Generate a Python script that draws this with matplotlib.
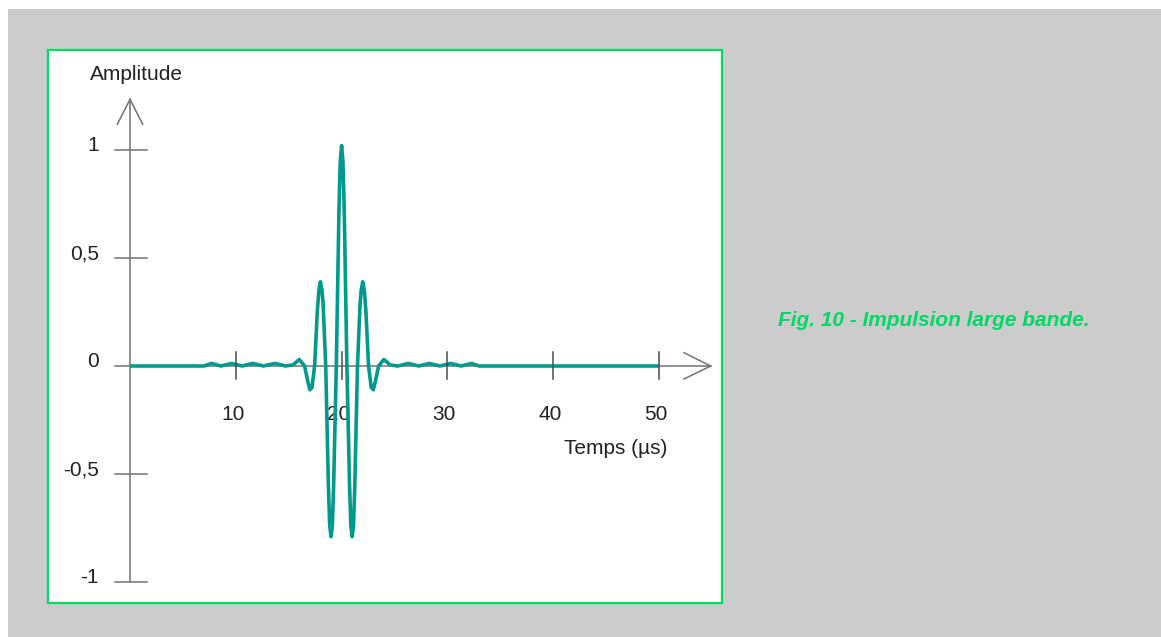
import matplotlib
matplotlib.use('Agg')
import matplotlib.pyplot as plt
from matplotlib.patches import Rectangle

# ---- data ----
time_us = [0, 7.0, 7.7, 8.6, 9.6, 10.6, 11.6, 12.6, 13.7, 14.7, 15.4, 16.0, 16.5,
           16.8, 17.0, 17.2, 17.45, 17.7, 17.85, 18.0, 18.15, 18.25, 18.5, 18.75,
           18.875, 19.0, 19.125, 19.25, 19.5, 19.75, 19.875, 20.0, 20.125, 20.25,
           20.5, 20.75, 20.875, 21.0, 21.125, 21.25, 21.5, 21.75, 21.85, 22.0,
           22.15, 22.3, 22.55, 22.8, 23.0, 23.2, 23.5, 24.0, 24.6, 25.3, 26.3,
           27.3, 28.3, 29.3, 30.3, 31.3, 32.3, 33.0, 50]
amplitude = [0, 0, 0.012, 0, 0.012, 0, 0.012, 0, 0.012, 0, 0.005, 0.03, 0.0,
             -0.07, -0.11, -0.10, 0.0, 0.25, 0.35, 0.39, 0.35, 0.29, 0.0, -0.55,
             -0.74, -0.79, -0.74, -0.55, 0.0, 0.72, 0.95, 1.02, 0.95, 0.72,
             0.0, -0.55, -0.74, -0.79, -0.74, -0.55, 0.0, 0.29, 0.35, 0.39,
             0.35, 0.25, 0.0, -0.10, -0.11, -0.07, 0.0, 0.03, 0.005, 0, 0.012,
             0, 0.012, 0, 0.012, 0, 0.012, 0, 0]

x_ticks = [10, 20, 30, 40, 50]
x_tick_labels = ['10', '20', '30', '40', '50']
y_ticks = [1, 0.5, 0, -0.5, -1]
y_tick_labels = ['1', '0,5', '0', '-0,5', '-1']
x_label = 'Temps (µs)'
y_label = 'Amplitude'
caption = 'Fig. 10 - Impulsion large bande.'

# ---- layout ----
W, H = 1161, 637
X0, XS = 130.0, 10.58     # pixel of x=0, pixels per µs
Y0, YS = 366.0, 216.0     # pixel of y=0, pixels per unit amplitude

plt.rcParams['font.family'] = ['Liberation Sans', 'DejaVu Sans']
fig = plt.figure(figsize=(W / 100, H / 100), dpi=100)
fig.patch.set_facecolor('white')


def fx(px):
    return px / W


def fy(py):
    return 1 - py / H


fig.patches.append(Rectangle((fx(8), 0), 1 - fx(8), fy(9), transform=fig.transFigure,
                             facecolor='#cccccc', edgecolor='none', zorder=0))
fig.patches.append(Rectangle((fx(48), fy(603)), fx(722) - fx(48), fy(50) - fy(603),
                             transform=fig.transFigure, facecolor='white',
                             edgecolor='#00dd66', linewidth=1.6, zorder=1))

ax = fig.add_axes([0, 0, 1, 1])
ax.set_zorder(5)
ax.patch.set_alpha(0)
ax.axis('off')
ax.set_xlim(-X0 / XS, (W - X0) / XS)
ax.set_ylim((Y0 - H) / YS, Y0 / YS)


def dx(px):
    return (px - X0) / XS


def dy(py):
    return (Y0 - py) / YS


axis_col = '#737373'
tick_col = '#4a4a4a'
lw_axis = 1.1

# x axis with open arrow
ax.plot([0, dx(710.7)], [0, 0], color=axis_col, lw=lw_axis, zorder=2)
ax.plot([dx(684), dx(710.7), dx(684)], [dy(352.7), 0, dy(379)], color=axis_col,
        lw=lw_axis, zorder=2)
# y axis with open arrow
ax.plot([0, 0], [min(y_ticks), dy(99.3)], color=axis_col, lw=lw_axis, zorder=2)
ax.plot([dx(117.3), 0, dx(142.7)], [dy(124.3), dy(99.3), dy(124.3)], color=axis_col,
        lw=lw_axis, zorder=2)

for v, lbl in zip(y_ticks, y_tick_labels):
    ax.plot([dx(115), dx(147.3)], [v, v], color=axis_col, lw=lw_axis, zorder=2)
    ax.text(dx(99), v - 1.0 / YS, lbl, ha='right', va='baseline', fontsize=15,
            color='#222222')

for v, lbl in zip(x_ticks, x_tick_labels):
    ax.plot([v, v], [dy(379.3), dy(351.7)], color=tick_col, lw=lw_axis, zorder=4)
    ax.text(v - 0.3, dy(420.5), lbl, ha='center', va='baseline', fontsize=15,
            color='#222222')

ax.plot(time_us, amplitude, color='#009a8c', lw=2.6, solid_joinstyle='round',
        solid_capstyle='butt', zorder=3)

ax.text(dx(615.5), dy(454), x_label, ha='center', va='baseline', fontsize=15,
        color='#222222')
ax.text(dx(136.7), dy(79.5), y_label, ha='center', va='baseline', fontsize=15,
        color='#222222')

fig.text(fx(778), fy(326), caption, ha='left', va='baseline', fontsize=15,
         fontweight='bold', fontstyle='italic', color='#00d966')

fig.savefig('out.png', dpi=100, facecolor=fig.get_facecolor())
